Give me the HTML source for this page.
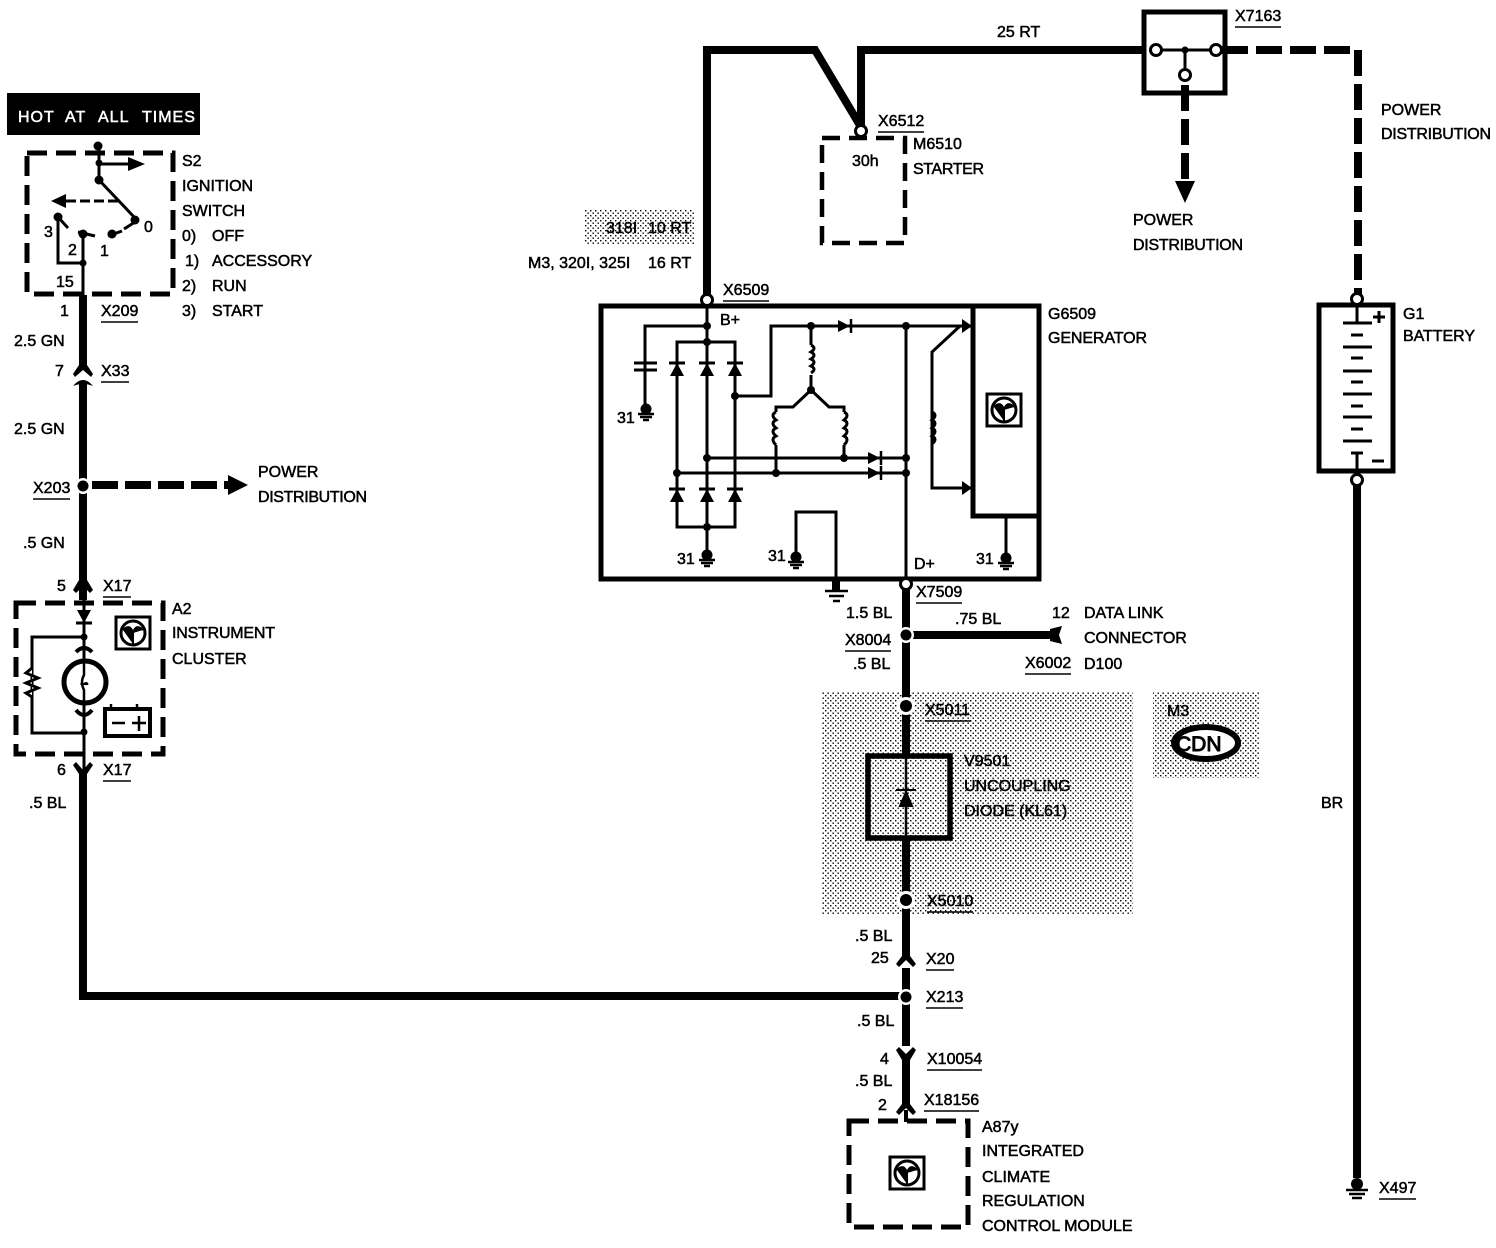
<!DOCTYPE html>
<html><head><meta charset="utf-8"><style>
html,body{margin:0;padding:0;background:#fff}
svg{display:block}
text{font-family:"Liberation Sans",sans-serif;font-size:16px;fill:#000;stroke:#000;stroke-width:.5}
.w{fill:#fff;stroke:#fff;letter-spacing:1px}
</style></head><body>
<svg width="1496" height="1248" viewBox="0 0 1496 1248" xmlns="http://www.w3.org/2000/svg">
<defs>
<pattern id="st" width="5" height="5" patternUnits="userSpaceOnUse"><rect width="1.4" height="1.4" fill="#000"/><rect x="2.5" y="2.5" width="1.4" height="1.4" fill="#000"/></pattern>
<g id="dd"><path d="M-7 -7H7L0 6Z" fill="#000"/><path d="M-8 6H8" stroke="#000" stroke-width="3"/></g>
<g id="gnd"><circle cy="-3" r="5.5" fill="#000"/><path d="M-8 2H8M-6 5H6M-3 8H3" stroke="#000" stroke-width="2.6"/></g>
<g id="ecu"><rect x="-17" y="-16" width="34" height="32" fill="#fff" stroke="#000" stroke-width="3"/><circle r="12" fill="none" stroke="#000" stroke-width="3"/><path d="M-10 -3Q-3 -10 0 0L0 11M10 -3Q3 -10 0 0" fill="#000" stroke="#000" stroke-width="2"/></g>
<g id="dn"><circle r="4.5" fill="#000"/></g>
<g id="ring"><circle r="5.5" fill="#fff" stroke="#000" stroke-width="3"/></g>
</defs>

<!-- stipple -->
<rect x="822" y="692" width="311" height="223" fill="url(#st)"/>
<rect x="1153" y="692" width="106" height="86" fill="url(#st)"/>
<rect x="585" y="210" width="110" height="35" fill="url(#st)"/>

<!-- hot box -->
<rect x="7" y="93" width="193" height="42" fill="#000"/>
<text x="18" y="122" class="w">HOT</text><text x="65" y="122" class="w">AT</text><text x="98" y="122" class="w">ALL</text><text x="142" y="122" class="w">TIMES</text>

<!-- S2 switch -->
<rect x="27" y="153" width="146" height="141" fill="none" stroke="#000" stroke-width="5" stroke-dasharray="20 9"/>
<g fill="none" stroke="#000" stroke-width="3">
<path d="M99 146V180L135 218"/>
<path d="M99 164H130"/>
<path d="M118 201H66" stroke-dasharray="10 4"/>
<path d="M58 217V263H83M83 234V295"/>
<path d="M58 217L68 228M78 232L95 236M108 236L122 231M124 229L135 222"/>
</g>
<path d="M128 157L145 164L128 171Z"/><path d="M66 194L51 201L66 208Z"/>
<use href="#dn" x="98" y="146"/><circle cx="99" cy="163" r="3.5"/><use href="#dn" x="99" y="180"/><use href="#dn" x="135" y="220"/><use href="#dn" x="58" y="217"/><use href="#dn" x="83" y="234"/><use href="#dn" x="112" y="234"/><circle cx="83" cy="263" r="3.5"/>

<!-- left main wire -->
<g fill="none" stroke="#000" stroke-width="8">
<path d="M83 295V362"/>
<path d="M83 382V600"/>
<path d="M83 775V996H906"/>
</g>
<path d="M79 358H87V365L93 374L91 377L83 370L75 377L73 374L79 365Z"/>
<path d="M73 386Q83 374 93 386Q83 382 73 386Z"/>
<path d="M79 572H87V580L93 590L90 593L83 586L76 593L73 590L79 580Z"/>
<path d="M73 765L76 762L83 770L90 762L93 765L87 774V782H79V774Z"/>
<circle cx="83" cy="486" r="8" fill="#fff"/><circle cx="83" cy="486" r="5.5"/>
<path d="M92 485H230" stroke="#000" stroke-width="8" fill="none" stroke-dasharray="26 7"/>
<path d="M228 475L248 485L228 495Z"/>

<!-- A2 cluster -->
<rect x="16" y="603" width="147" height="151" fill="none" stroke="#000" stroke-width="5" stroke-dasharray="20 9"/>
<g fill="none" stroke="#000" stroke-width="3">
<path d="M84 592V660M84 704V770"/>
<path d="M84 637H32V733H84"/>
<path d="M32 668L26 673L38 678L26 683L38 688L26 693L32 697" stroke-width="3" fill="#fff"/>
<circle cx="85" cy="682" r="21" stroke-width="5"/>
<path d="M84 660V675Q80 682 84 690V704" stroke-width="2.5"/>
<path d="M76 652Q84 644 92 652M76 710Q84 720 92 710" stroke-width="4"/>
<rect x="105" y="709" width="45" height="27" stroke-width="4"/>
<path d="M112 723H125M132 723H146M139 716V731M111 708V704M137 708V704" stroke-width="2.5"/>
</g>
<use href="#dd" x="84" y="617"/>
<path d="M86 682Q92 686 80 684" stroke="#000" fill="#000"/>
<circle cx="84" cy="637" r="3.5"/><circle cx="84" cy="732" r="3.5"/>
<use href="#ecu" x="133" y="633"/>

<!-- top wiring -->
<g fill="none" stroke="#000" stroke-width="8">
<path d="M707 298V50H815L861 127"/>
<path d="M861 127V50H1145"/>
<path d="M1222 50H1358V296" stroke-dasharray="26 8"/>
<path d="M1185 85V180" stroke-dasharray="26 8"/>
</g>
<path d="M1175 181H1195L1185 203Z"/>
<rect x="1144" y="12" width="81" height="81" fill="none" stroke="#000" stroke-width="5"/>
<path d="M1156 50H1216M1185 50V75" stroke="#000" stroke-width="3"/>
<circle cx="1185" cy="50" r="3.5"/>
<use href="#ring" x="1156" y="50"/><use href="#ring" x="1216" y="50"/><use href="#ring" x="1185" y="75"/>
<rect x="822" y="138" width="83" height="105" fill="none" stroke="#000" stroke-width="4.5" stroke-dasharray="18 9"/>
<use href="#ring" x="861" y="131"/>

<!-- generator -->
<rect x="601" y="306" width="438" height="273" fill="none" stroke="#000" stroke-width="5"/>
<path d="M973 306V516H1037" fill="none" stroke="#000" stroke-width="5"/>
<g fill="none" stroke="#000" stroke-width="3">
<path d="M707 306V555"/>
<path d="M707 326H645V405"/>
<path d="M634 363H657M634 370H657" stroke-width="3"/>
<path d="M677 342H735V527H677ZM677 473H906M707 458H906"/>
<path d="M735 396H771V326H972"/>
<path d="M811 326V345M811 375V390L793 407H776V412M776 445V473M811 390L829 407H844V412M844 445V458"/>
<path d="M811 345q6 3 0 7q6 3 0 7q6 3 0 7q6 3 0 7M776 412q-6 3 0 8q-6 3 0 8q-6 3 0 8q-6 3 0 9M844 412q6 3 0 8q6 3 0 8q6 3 0 8q6 3 0 9" stroke-width="3"/>
<path d="M906 326V580"/>
<path d="M960 326L932 352V488H972"/>
<path d="M932 412q6 3 0 8q6 3 0 8q6 3 0 8q6 3 0 8" stroke-width="3"/>
<path d="M796 555V512H836V580"/>
<path d="M1006 516V555"/>
</g>
<path d="M962 319L972 326L962 333Z"/><path d="M962 481L972 488L962 495Z"/>
<path d="M838 320L850 326L838 332Z"/><path d="M851 319V333" stroke="#000" stroke-width="2.5"/>
<path d="M868 452L880 458L868 464Z"/><path d="M881 451V465" stroke="#000" stroke-width="2.5"/>
<path d="M868 467L880 473L868 479Z"/><path d="M881 466V480" stroke="#000" stroke-width="2.5"/>
<use href="#dd" x="677" y="369" transform="rotate(180 677 369)"/><use href="#dd" x="707" y="369" transform="rotate(180 707 369)"/><use href="#dd" x="735" y="369" transform="rotate(180 735 369)"/>
<use href="#dd" x="677" y="495" transform="rotate(180 677 495)"/><use href="#dd" x="707" y="495" transform="rotate(180 707 495)"/><use href="#dd" x="735" y="495" transform="rotate(180 735 495)"/>
<g>
<circle cx="707" cy="326" r="4"/><circle cx="707" cy="342" r="4"/><circle cx="735" cy="396" r="4"/><circle cx="811" cy="326" r="4"/><circle cx="906" cy="326" r="4"/><circle cx="811" cy="390" r="4"/><circle cx="707" cy="458" r="4"/><circle cx="844" cy="458" r="4"/><circle cx="906" cy="458" r="4"/><circle cx="677" cy="473" r="4"/><circle cx="776" cy="473" r="4"/><circle cx="906" cy="473" r="4"/><circle cx="707" cy="527" r="4"/>
</g>
<use href="#gnd" x="646" y="412"/><use href="#gnd" x="707" y="558"/><use href="#gnd" x="796" y="560"/><use href="#gnd" x="1006" y="561"/>
<path d="M836 580V590" stroke="#000" stroke-width="8"/><path d="M825 591H848M829 596H844M833 601H840" stroke="#000" stroke-width="2.5"/>
<use href="#ecu" x="1004" y="410"/>
<use href="#ring" x="707" y="300"/>

<!-- main vertical -->
<g fill="none" stroke="#000" stroke-width="8">
<path d="M906 590V755M906 838V950"/>
<path d="M906 968V1046M906 1062V1100"/>
<path d="M906 635H1055"/>
</g>
<path d="M906 755V838" stroke="#000" stroke-width="2.5"/>
<rect x="868" y="756" width="82" height="82" fill="none" stroke="#000" stroke-width="5.5"/>
<path d="M900 806H912L906 792ZM896 790H916" stroke="#000" stroke-width="2"/>
<use href="#ring" x="906" y="584"/>
<circle cx="906" cy="635" r="8" fill="#fff"/><circle cx="906" cy="635" r="5.5"/>
<circle cx="906" cy="706" r="9" fill="#fff"/><circle cx="906" cy="706" r="6"/>
<circle cx="906" cy="900" r="9" fill="#fff"/><circle cx="906" cy="900" r="6"/>
<circle cx="906" cy="997" r="8" fill="#fff"/><circle cx="906" cy="997" r="5.5"/>
<path d="M902 948H910V956L916 964L913 967L906 960L899 967L896 964L902 956Z"/>
<path d="M896 1050L899 1047L906 1054L913 1047L916 1050L910 1060V1068H902V1060Z"/>
<path d="M902 1098H910V1104L916 1112L913 1115L906 1108L899 1115L896 1112L902 1104Z"/>
<path d="M906 1110V1122" stroke="#000" stroke-width="4"/>
<path d="M1050 629L1062 626L1059 635L1062 644L1050 641Z"/>
<rect x="849" y="1121" width="119" height="106" fill="none" stroke="#000" stroke-width="5" stroke-dasharray="20 9"/>
<use href="#ecu" x="907" y="1173"/>

<!-- battery -->
<path d="M1357 485V1178" stroke="#000" stroke-width="8"/>
<rect x="1319" y="305" width="74" height="166" fill="#fff" stroke="#000" stroke-width="5"/>
<g stroke="#000" fill="none" stroke-width="3">
<path d="M1357 305V323M1343 323H1372M1351 335H1363M1343 347H1372M1351 358H1363M1343 371H1372M1351 382H1363M1343 394H1372M1351 406H1363M1343 417H1372M1351 429H1363M1343 441H1372M1351 453H1363M1357 453V471"/>
<path d="M1373 317H1385M1379 311V323M1372 461H1384"/>
</g>
<use href="#ring" x="1357" y="299"/><use href="#ring" x="1357" y="480"/>
<circle cx="1357" cy="1184" r="6"/><path d="M1346 1190H1368M1349 1194H1365M1352 1198H1362" stroke="#000" stroke-width="2.5"/>

<!-- CDN -->
<ellipse cx="1206" cy="743" rx="32" ry="16" fill="#fff" stroke="#000" stroke-width="6"/>
<text x="1176" y="751" style="font-size:21px;stroke-width:1">CDN</text>

<!-- underlines -->
<path stroke="#000" stroke-width="1.6" fill="none" d="M101 322h37M101 382h28M33 499h37M103 597h28M103 781h28M1235 27h46M878 132h46M723 301h46M916 603h46M845 651h46M1025 674h46M925 721h46M927 912h46M926 970h28M926 1008h37M927 1070h55M924 1111h55M1379 1199h37"/>

<!-- labels -->
<text x="182" y="166">S2</text><text x="182" y="191">IGNITION</text><text x="182" y="216">SWITCH</text>
<text x="182" y="241">0)</text><text x="212" y="241">OFF</text>
<text x="185" y="266">1)</text><text x="212" y="266">ACCESSORY</text>
<text x="182" y="291">2)</text><text x="212" y="291">RUN</text>
<text x="182" y="316">3)</text><text x="212" y="316">START</text>
<text x="44" y="237">3</text><text x="68" y="255">2</text><text x="100" y="256">1</text><text x="144" y="232">0</text><text x="56" y="287">15</text>
<text x="60" y="316">1</text><text x="101" y="316">X209</text>
<text x="14" y="346">2.5 GN</text><text x="55" y="376">7</text><text x="101" y="376">X33</text>
<text x="14" y="434">2.5 GN</text><text x="33" y="493">X203</text>
<text x="258" y="477">POWER</text><text x="258" y="502" textLength="109">DISTRIBUTION</text>
<text x="23" y="548">.5 GN</text><text x="57" y="591">5</text><text x="103" y="591">X17</text>
<text x="172" y="614">A2</text><text x="172" y="638" textLength="103">INSTRUMENT</text><text x="172" y="664">CLUSTER</text>
<text x="57" y="775">6</text><text x="103" y="775">X17</text><text x="29" y="808">.5 BL</text>

<text x="997" y="37">25 RT</text><text x="1235" y="21">X7163</text>
<text x="878" y="126">X6512</text><text x="913" y="149">M6510</text><text x="852" y="166">30h</text><text x="913" y="174" textLength="71">STARTER</text>
<text x="1133" y="225">POWER</text><text x="1133" y="250" textLength="110">DISTRIBUTION</text>
<text x="1381" y="115">POWER</text><text x="1381" y="139" textLength="110">DISTRIBUTION</text>
<text x="606" y="233">318I</text><text x="648" y="233">10 RT</text>
<text x="528" y="268">M3, 320I, 325I</text><text x="648" y="268">16 RT</text>
<text x="723" y="295">X6509</text><text x="720" y="325">B+</text>
<text x="1048" y="319">G6509</text><text x="1048" y="343" textLength="99">GENERATOR</text>
<text x="1403" y="319">G1</text><text x="1403" y="341" textLength="72">BATTERY</text>
<text x="617" y="423">31</text><text x="677" y="564">31</text><text x="768" y="561">31</text><text x="976" y="564">31</text>
<text x="914" y="569">D+</text><text x="916" y="597">X7509</text>
<text x="846" y="618">1.5 BL</text><text x="845" y="645">X8004</text><text x="853" y="669">.5 BL</text>
<text x="955" y="624">.75 BL</text><text x="1052" y="618">12</text><text x="1084" y="618">DATA LINK</text><text x="1084" y="643">CONNECTOR</text>
<text x="1025" y="668">X6002</text><text x="1084" y="669">D100</text>
<text x="925" y="715">X5011</text><text x="964" y="766">V9501</text><text x="964" y="791">UNCOUPLING</text><text x="964" y="816">DIODE (KL61)</text>
<text x="1167" y="716">M3</text>
<text x="927" y="906">X5010</text><text x="1321" y="808">BR</text>
<text x="855" y="941">.5 BL</text><text x="871" y="963">25</text><text x="926" y="964">X20</text>
<text x="926" y="1002">X213</text><text x="857" y="1026">.5 BL</text>
<text x="880" y="1064">4</text><text x="927" y="1064">X10054</text>
<text x="855" y="1086">.5 BL</text><text x="878" y="1110">2</text><text x="924" y="1105">X18156</text>
<text x="982" y="1132">A87y</text><text x="982" y="1156">INTEGRATED</text><text x="982" y="1182">CLIMATE</text><text x="982" y="1206">REGULATION</text><text x="982" y="1231">CONTROL MODULE</text>
<text x="1379" y="1193">X497</text>
</svg>
</body></html>
